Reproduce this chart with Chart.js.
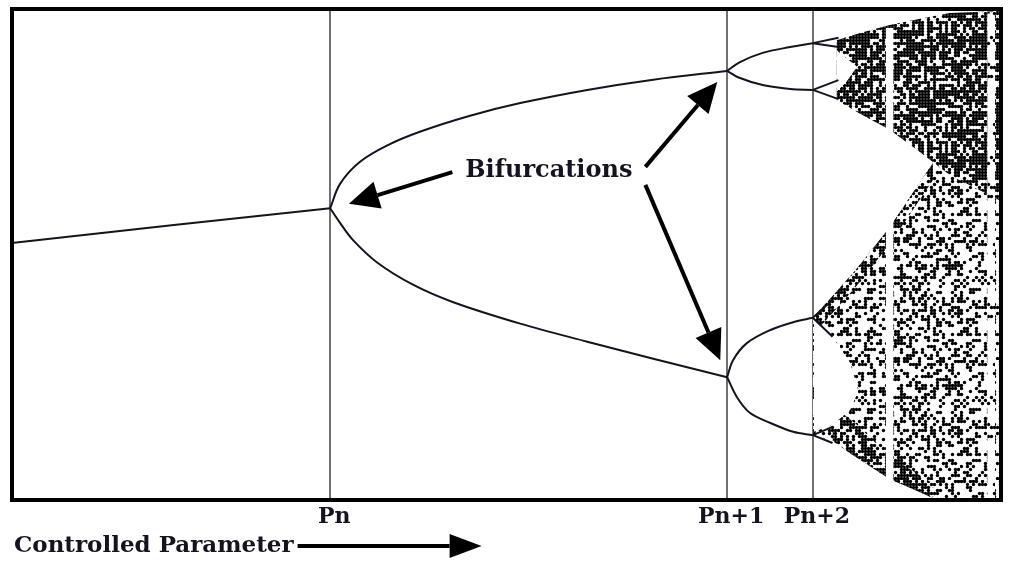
<!DOCTYPE html>
<html lang="en">
<head>
<meta charset="utf-8">
<title>Bifurcation Diagram</title>
<script src="https://cdn.jsdelivr.net/npm/chart.js@4.4.1/dist/chart.umd.min.js"></script>
<style>
    html, body { margin: 0; padding: 0; background: #fff; }
    #wrap { width: 1010px; height: 562px; }
</style>
</head>
<body>
<div id="wrap"><canvas id="bifurcationChart" width="1010" height="562"></canvas></div>
<script>
// Bifurcation diagram - x: controlled parameter (0-100), y: system state (0-1)

// Axis ticks
const paramTicks = [32.1, 72.4, 81.1];
const paramLabels = ['Pn', 'Pn+1', 'Pn+2'];

// Period 1 - single stable state
const p1X = [0, 16, 32.1];
const p1Y = [0.524, 0.560, 0.595];

// Period 2 - first split at Pn
const p2UpperX = [32.1, 33.1, 35.1, 37.9, 41.2, 46.3, 51.4, 58.2, 64.9, 72.4];
const p2UpperY = [0.595, 0.645, 0.690, 0.724, 0.752, 0.785, 0.811, 0.838, 0.859, 0.877];
const p2LowerX = [32.1, 33.1, 34.4, 36.9, 40.5, 44.6, 51.4, 58.2, 64.9, 72.4];
const p2LowerY = [0.595, 0.565, 0.530, 0.483, 0.438, 0.402, 0.358, 0.321, 0.286, 0.248];

// Period 4 - second split at Pn+1
const p4aX = [72.4, 73.7, 76.0, 78.8, 81.1];
const p4aY = [0.877, 0.895, 0.914, 0.926, 0.934];
const p4bX = [72.4, 73.5, 76.0, 78.8, 81.1];
const p4bY = [0.877, 0.864, 0.848, 0.840, 0.838];
const p4cX = [72.4, 73.0, 74.4, 76.8, 79.1, 81.1];
const p4cY = [0.248, 0.283, 0.318, 0.345, 0.361, 0.370];
const p4dX = [72.4, 73.4, 74.7, 76.8, 79.1, 81.1];
const p4dY = [0.248, 0.207, 0.175, 0.154, 0.136, 0.129];

// Period 8 - short branches after Pn+2
const p8StartX = [81.1, 81.1, 81.1, 81.1, 81.1, 81.1, 81.1, 81.1];
const p8StartY = [0.934, 0.934, 0.838, 0.838, 0.370, 0.370, 0.129, 0.129];
const p8EndX = [83.7, 83.7, 83.7, 83.7, 83.1, 83.1, 83.1, 83.1];
const p8EndY = [0.945, 0.926, 0.858, 0.819, 0.407, 0.331, 0.146, 0.113];

// Chaotic region - upper (dense) band
const chaosUX = [83.5, 85.9, 88.9, 92.0, 95.0, 100];
const chaosUTop = [0.940, 0.955, 0.971, 0.984, 0.996, 1.0];
const chaosUBottom = [0.817, 0.789, 0.756, 0.710, 0.663, 0.612];

// Chaotic region - lower (sparse) band
const chaosLX = [81.1, 83.1, 85.6, 88.9, 93.3, 95.0, 100];
const chaosLTop = [0.370, 0.415, 0.472, 0.556, 0.688, 0.663, 0.612];
const chaosLBottom = [0.129, 0.117, 0.082, 0.039, 0, 0, 0];

// Denser edges of the lower band
const edgeTopX = [81.1, 83.1, 85.6, 88.9, 93.3];
const edgeTopHigh = [0.370, 0.415, 0.472, 0.556, 0.688];
const edgeTopLow = [0.335, 0.380, 0.437, 0.521, 0.653];
const edgeBotX = [83.1, 85.6, 88.9, 93.3];
const edgeBotHigh = [0.190, 0.150, 0.085, 0.030];
const edgeBotLow = [0.117, 0.082, 0.039, 0];

// Empty pockets inside the chaos (period-8 loops and period-3 window)
const notchUX = [83.5, 84.5, 85.5];
const notchUTop = [0.920, 0.903, 0.887];
const notchUBottom = [0.834, 0.854, 0.883];
const notchLX = [81.2, 83.1, 84.9, 85.7];
const notchLTop = [0.366, 0.331, 0.277, 0.222];
const notchLBottom = [0.136, 0.150, 0.181, 0.218];
const windowX = [88.5, 89.3];
const windowTop = [0.965, 0.965];
const windowBottom = [0.016, 0.016];
const edgeColX = [98.8, 99.6];
const edgeColTop = [0.995, 0.995];
const edgeColBottom = [0, 0];

const ink = '#141420';

function pts(xs, ys) {
    return xs.map((x, i) => ({ x: x, y: ys[i] }));
}

// Stipple texture for chaotic bands (fixed integer hash, not random)
function stipple(ctx, density, seed) {
    const cells = 40, cell = 3;
    const tile = document.createElement('canvas');
    tile.width = tile.height = cells * cell;
    const t = tile.getContext('2d');
    t.fillStyle = '#fff';
    t.fillRect(0, 0, tile.width, tile.height);
    t.fillStyle = '#000';
    for (let i = 0; i < cells; i++) {
        for (let j = 0; j < cells; j++) {
            let h = Math.imul(i + 1, 374761393) ^ Math.imul(j + 1, 668265263) ^ Math.imul(seed, 2246822519);
            h = Math.imul(h ^ (h >>> 13), 1274126177);
            h = (h ^ (h >>> 16)) >>> 0;
            if (h % 100 < density) {
                t.beginPath();
                t.arc(i * cell + 1.5, j * cell + 1.5, 1.7, 0, Math.PI * 2);
                t.fill();
            }
        }
    }
    return ctx.createPattern(tile, 'repeat');
}

// Annotation: label and arrows, placed in data units
const notes = {
    text: 'Bifurcations',
    at: { x: 54.3, y: 0.671 },
    arrows: [
        { from: { x: 44.5, y: 0.669 }, to: { x: 34.0, y: 0.604 } },
        { from: { x: 64.1, y: 0.680 }, to: { x: 71.4, y: 0.854 } },
        { from: { x: 64.1, y: 0.643 }, to: { x: 71.7, y: 0.283 } }
    ]
};

function drawArrow(c, x1, y1, x2, y2, width, headLen, headHalf) {
    const ang = Math.atan2(y2 - y1, x2 - x1);
    const bx = x2 - headLen * Math.cos(ang);
    const by = y2 - headLen * Math.sin(ang);
    c.strokeStyle = '#000';
    c.fillStyle = '#000';
    c.lineWidth = width;
    c.beginPath();
    c.moveTo(x1, y1);
    c.lineTo(bx, by);
    c.stroke();
    c.beginPath();
    c.moveTo(x2, y2);
    c.lineTo(bx + headHalf * Math.sin(ang), by - headHalf * Math.cos(ang));
    c.lineTo(bx - headHalf * Math.sin(ang), by + headHalf * Math.cos(ang));
    c.closePath();
    c.fill();
}

const notesPlugin = {
    id: 'notes',
    afterDraw(chart) {
        const c = chart.ctx;
        const xs = chart.scales.x;
        const ys = chart.scales.y;
        const area = chart.chartArea;
        c.save();

        // Frame
        c.strokeStyle = '#000';
        c.lineWidth = 4;
        c.strokeRect(area.left - 2, area.top - 2, area.right - area.left + 4, area.bottom - area.top + 4);

        // Label
        c.font = 'bold 24px "DejaVu Serif"';
        c.fillStyle = ink;
        c.textAlign = 'center';
        c.textBaseline = 'middle';
        c.fillText(notes.text, xs.getPixelForValue(notes.at.x), ys.getPixelForValue(notes.at.y));

        notes.arrows.forEach(a => {
            drawArrow(c,
                xs.getPixelForValue(a.from.x), ys.getPixelForValue(a.from.y),
                xs.getPixelForValue(a.to.x), ys.getPixelForValue(a.to.y),
                4, 30, 14);
        });

        // Arrow after the axis title
        c.font = 'bold 23px "DejaVu Serif"';
        const titleW = c.measureText('Controlled Parameter').width;
        const ay = xs.bottom - 16;
        const ax = xs.left + titleW + 4;
        drawArrow(c, ax, ay, ax + 184, ay, 4, 32, 12);

        c.restore();
    }
};

document.addEventListener('DOMContentLoaded', function() {
    const canvas = document.getElementById('bifurcationChart');
    const ctx = canvas.getContext('2d');

    const dense = stipple(ctx, 70, 3);
    const sparse = stipple(ctx, 36, 7);
    const edge = stipple(ctx, 64, 11);
    const thin = stipple(ctx, 16, 5);

    const datasets = [];

    function addLine(xs, ys) {
        datasets.push({
            data: pts(xs, ys),
            borderColor: ink,
            borderWidth: 2,
            pointRadius: 0,
            fill: false,
            tension: 0.35,
            order: 1
        });
    }

    function addBand(xs, top, bottom, fillStyle, order) {
        const target = datasets.length + 1;
        datasets.push({
            data: pts(xs, top),
            fill: target,
            backgroundColor: fillStyle,
            borderColor: 'rgba(0,0,0,0)',
            borderWidth: 0,
            pointRadius: 0,
            order: order
        });
        datasets.push({
            data: pts(xs, bottom),
            fill: false,
            borderColor: 'rgba(0,0,0,0)',
            borderWidth: 0,
            pointRadius: 0,
            order: order
        });
    }

    // Stable and periodic branches
    addLine(p1X, p1Y);
    addLine(p2UpperX, p2UpperY);
    addLine(p2LowerX, p2LowerY);
    addLine(p4aX, p4aY);
    addLine(p4bX, p4bY);
    addLine(p4cX, p4cY);
    addLine(p4dX, p4dY);

    const p8Data = [];
    p8StartX.forEach((x, i) => {
        p8Data.push({ x: x, y: p8StartY[i] }, { x: p8EndX[i], y: p8EndY[i] }, { x: p8EndX[i], y: null });
    });
    datasets.push({ data: p8Data, borderColor: ink, borderWidth: 2, pointRadius: 0, fill: false, spanGaps: false, order: 1 });

    // Chaotic bands (drawn first, under the branches)
    addBand(chaosUX, chaosUTop, chaosUBottom, dense, 20);
    addBand(chaosLX, chaosLTop, chaosLBottom, sparse, 20);
    addBand(edgeTopX, edgeTopHigh, edgeTopLow, edge, 19);
    addBand(edgeBotX, edgeBotHigh, edgeBotLow, edge, 19);
    addBand(edgeColX, edgeColTop, edgeColBottom, thin, 18);
    addBand(notchUX, notchUTop, notchUBottom, '#fff', 17);
    addBand(notchLX, notchLTop, notchLBottom, '#fff', 17);
    addBand(windowX, windowTop, windowBottom, '#fff', 17);

    new Chart(ctx, {
        type: 'line',
        data: { datasets: datasets },
        plugins: [notesPlugin],
        options: {
            responsive: false,
            animation: false,
            events: [],
            layout: { padding: { left: 14, right: 11, top: 11, bottom: 0 } },
            plugins: {
                legend: { display: false },
                tooltip: { enabled: false },
                filler: { propagate: false }
            },
            scales: {
                x: {
                    type: 'linear',
                    min: 0,
                    max: 100,
                    afterBuildTicks: function(scale) {
                        scale.ticks = paramTicks.map(v => ({ value: v }));
                    },
                    afterFit: function(scale) {
                        scale.height = 64;
                    },
                    grid: { color: '#707070', lineWidth: 2, drawTicks: false },
                    border: { display: false },
                    ticks: {
                        autoSkip: false,
                        maxRotation: 0,
                        padding: 6,
                        labelOffset: 4,
                        color: ink,
                        font: { family: 'DejaVu Serif', size: 22, weight: 'bold' },
                        callback: function(value, index) {
                            return paramLabels[index];
                        }
                    },
                    title: {
                        display: true,
                        text: 'Controlled Parameter',
                        align: 'start',
                        color: ink,
                        font: { family: 'DejaVu Serif', size: 23, weight: 'bold', lineHeight: 1 },
                        padding: { top: 0, bottom: 4.5 }
                    }
                },
                y: { display: false, min: 0, max: 1 }
            }
        }
    });
});
</script>
</body>
</html>
